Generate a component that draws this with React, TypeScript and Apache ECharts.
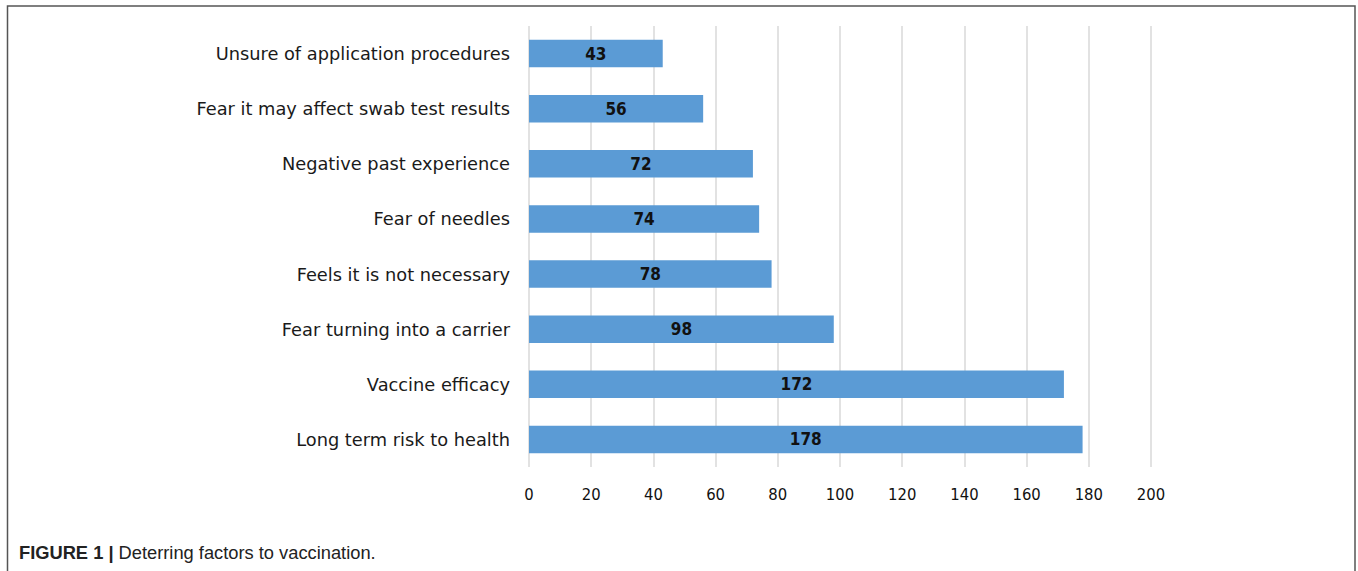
import React, { useEffect, useRef } from "react";
import * as echarts from "echarts";

const categories = [
  "Unsure of application procedures",
  "Fear it may affect swab test results",
  "Negative past experience",
  "Fear of needles",
  "Feels it is not necessary",
  "Fear turning into a carrier",
  "Vaccine efficacy",
  "Long term risk to health",
];
const values = [43, 56, 72, 74, 78, 98, 172, 178];
const captionBold = "FIGURE 1 |";
const captionText = " Deterring factors to vaccination.";

export default function App() {
  const ref = useRef<HTMLDivElement>(null);
  useEffect(() => {
    if (!ref.current) return;
    const chart = echarts.init(ref.current, null, { renderer: "svg" });
    chart.setOption({
      animation: false,
      backgroundColor: "#ffffff",
      grid: { left: 529, right: 207, top: 26, bottom: 104, containLabel: false },
      xAxis: {
        type: "value",
        min: 0,
        max: 200,
        interval: 20,
        axisLine: { show: false },
        axisTick: { show: false },
        splitLine: { show: true, lineStyle: { color: "#d9d9d9", width: 1.5 } },
        axisLabel: {
          margin: 19,
          color: "#111",
          fontSize: 16.5,
          fontFamily: "DejaVu Sans Condensed",
        },
      },
      yAxis: {
        type: "category",
        inverse: true,
        data: categories,
        axisLine: { show: false },
        axisTick: { show: false },
        axisLabel: {
          margin: 19,
          color: "#1a1a1a",
          fontSize: 17.8,
          fontFamily: "DejaVu Sans",
        },
      },
      series: [
        {
          type: "bar",
          data: values,
          barCategoryGap: "50%",
          itemStyle: { color: "#5b9bd5" },
          label: {
            show: true,
            position: "inside",
            color: "#111",
            fontWeight: "bold",
            fontSize: 17,
            fontFamily: "DejaVu Sans Condensed",
          },
        },
      ],
      graphic: [
        {
          type: "rect",
          shape: { x: 7.5, y: 6, width: 1347.5, height: 600 },
          style: { fill: "none", stroke: "#555", lineWidth: 1.5 },
          silent: true,
        },
        {
          type: "text",
          x: 19,
          y: 552,
          style: {
            text: "{b|" + captionBold + "}{n|" + captionText + "}",
            verticalAlign: "middle",
            rich: {
              b: { fontFamily: "Liberation Sans", fontWeight: "bold", fontSize: 18.3, fill: "#222" },
              n: { fontFamily: "Liberation Sans", fontSize: 18.3, fill: "#222" },
            },
          },
        },
      ],
    });
    return () => chart.dispose();
  }, []);
  return (
    <div
      ref={ref}
      style={{ position: "absolute", left: 0, top: 0, width: 1358, height: 571 }}
    />
  );
}
